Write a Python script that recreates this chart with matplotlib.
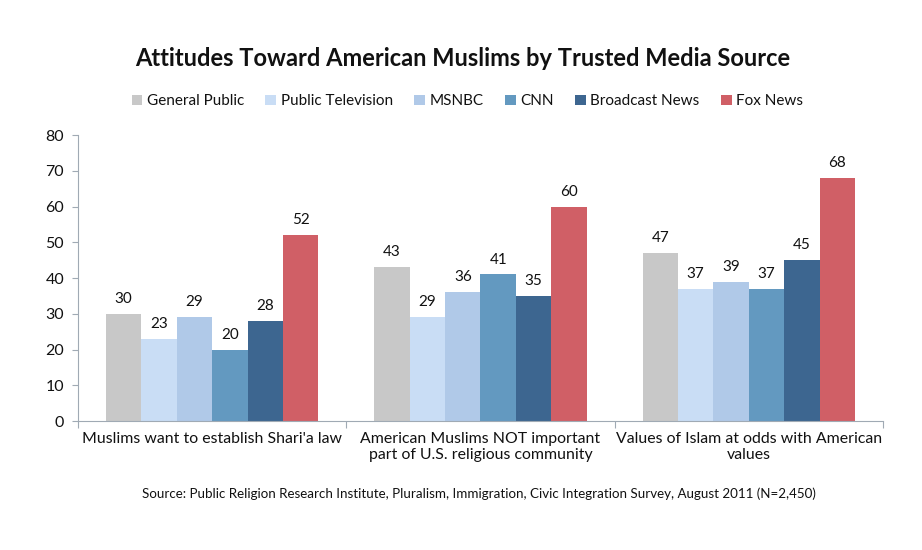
import numpy as np
import matplotlib.pyplot as plt
from matplotlib.patches import Patch

categories = ["Muslims want to establish Shari'a law",
              "American Muslims NOT important\npart of U.S. religious community",
              "Values of Islam at odds with American\nvalues"]
series = ["General Public", "Public Television", "MSNBC", "CNN",
          "Broadcast News", "Fox News"]
values = {
    "General Public": [30, 43, 47],
    "Public Television": [23, 29, 37],
    "MSNBC": [29, 36, 39],
    "CNN": [20, 41, 37],
    "Broadcast News": [28, 35, 45],
    "Fox News": [52, 60, 68],
}
colors = ["#C8C8C8", "#C9DDF5", "#B0C9E8", "#6399C0", "#3D6690", "#D05F66"]

plt.rcParams['font.family'] = ['Lato', 'DejaVu Sans']

fig = plt.figure(figsize=(9.22, 5.5), dpi=100)
ax = fig.add_axes([0.0846, 0.2345, 0.873, 0.52])

bw = 0.132
x = np.arange(len(categories))
for i, (name, c) in enumerate(zip(series, colors)):
    pos = x + (i - 2.5) * bw
    ax.bar(pos, values[name], width=bw, color=c, edgecolor='none')
    for p, v in zip(pos, values[name]):
        ax.text(p, v + 2.2, str(v), ha='center', va='bottom', fontsize=11,
                color='#111111')

ax.set_xlim(-0.5, 2.5)
ax.set_ylim(0, 80)
ax.set_yticks(range(0, 81, 10))
ax.tick_params(axis='y', labelsize=11.5, length=4, color='#A0AAB4', pad=6,
               labelcolor='#111111')
ax.set_xticks([-0.5, 0.5, 1.5, 2.5])
ax.set_xticklabels([])
ax.set_xticks(x, minor=True)
ax.set_xticklabels(categories, minor=True, fontsize=11.4, color='#111111')
ax.tick_params(axis='x', which='major', length=5, color='#A0AAB4')
ax.tick_params(axis='x', which='minor', length=0, pad=8)
for s in ['top', 'right']:
    ax.spines[s].set_visible(False)
for s in ['left', 'bottom']:
    ax.spines[s].set_color('#A0AAB4')

fig.text(0.502, 0.893, "Attitudes Toward American Muslims by Trusted Media Source",
         ha='center', va='center', fontsize=17, fontweight='bold', color='#111111')

handles = [Patch(facecolor=c, edgecolor='none') for c in colors]
fig.legend(handles, series, loc='center', bbox_to_anchor=(0.507, 0.816),
           ncol=6, frameon=False, fontsize=11, handlelength=0.7,
           handleheight=0.7, handletextpad=0.3, columnspacing=1.4,
           labelcolor='#111111')

fig.text(0.519, 0.103, "Source: Public Religion Research Institute, Pluralism, Immigration, "
         "Civic Integration Survey, August 2011 (N=2,450)",
         ha='center', va='center', fontsize=9.6, color='#111111')

fig.savefig('out.png', dpi=100)
